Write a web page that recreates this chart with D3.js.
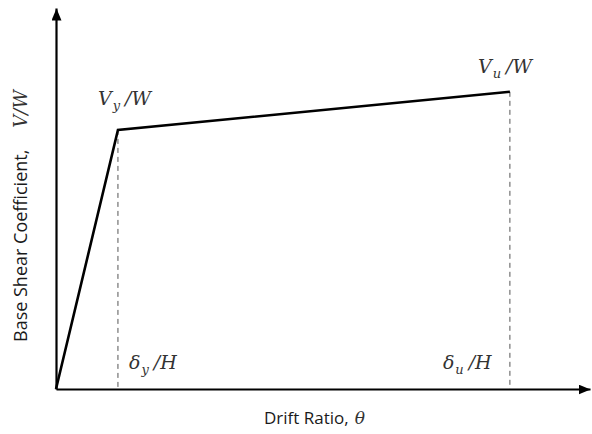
<!DOCTYPE html>
<html>
<head>
<meta charset="utf-8">
<script src="https://cdn.jsdelivr.net/npm/d3@7"></script>
<style>
  body { margin: 0; background: #fff; }
  .math { font-family: "DejaVu Serif", "Liberation Serif", serif; font-style: italic; fill: #333; }
  .axis-title { font-family: "Open Sans", "Noto Sans", sans-serif; fill: #1a1a1a; }
</style>
</head>
<body>
<svg id="chart"></svg>
<script>
// drift ratio (normalised) and base shear coefficient (normalised) of the capacity curve
const driftValues = [0, 0.116, 0.85];
const shearValues = [0, 0.68, 0.78];
const pointNames = ['origin', 'yield', 'ultimate'];

const width = 592, height = 434;
const margin = {top: 8, right: 2, bottom: 45, left: 56};

const svg = d3.select('#chart')
    .attr('width', width)
    .attr('height', height);

const x = d3.scaleLinear()
    .domain([0, 1])
    .range([margin.left, width - margin.right]);

const y = d3.scaleLinear()
    .domain([0, 1])
    .range([height - margin.bottom, margin.top]);

const points = driftValues.map((d, i) => ({name: pointNames[i], theta: d, v: shearValues[i]}));

// arrowhead
svg.append('defs').append('marker')
    .attr('id', 'arrow')
    .attr('viewBox', '0 0 12 10')
    .attr('refX', 12)
    .attr('refY', 5)
    .attr('markerWidth', 12)
    .attr('markerHeight', 10)
    .attr('markerUnits', 'userSpaceOnUse')
    .attr('orient', 'auto')
  .append('path')
    .attr('d', 'M0,0L12,5L0,10Z')
    .attr('fill', '#000');

// axes (no ticks, just the arrowed lines)
const xAxisG = svg.append('g')
    .attr('transform', `translate(0,${y(0)})`)
    .call(d3.axisBottom(x).tickValues([]).tickSizeOuter(0));

const yAxisG = svg.append('g')
    .attr('transform', `translate(${x(0)},0)`)
    .call(d3.axisLeft(y).tickValues([]).tickSizeOuter(0));

[xAxisG, yAxisG].forEach(g => g.select('.domain')
    .attr('stroke', '#000')
    .attr('stroke-width', 2.2)
    .attr('marker-end', 'url(#arrow)'));

// dashed drop lines
svg.selectAll('.drop')
    .data(points.slice(1))
  .join('line')
    .attr('class', 'drop')
    .attr('x1', d => x(d.theta))
    .attr('x2', d => x(d.theta))
    .attr('y1', d => y(d.v))
    .attr('y2', y(0))
    .attr('stroke', '#555')
    .attr('stroke-width', 1)
    .attr('stroke-dasharray', '5,4');

// capacity curve
svg.append('path')
    .datum(points)
    .attr('fill', 'none')
    .attr('stroke', '#000')
    .attr('stroke-width', 2.6)
    .attr('stroke-linejoin', 'miter')
    .attr('d', d3.line().x(d => x(d.theta)).y(d => y(d.v)));

// math labels
function mathLabel(px, py, main, sub, rest) {
  const t = svg.append('text')
      .attr('class', 'math')
      .attr('x', px)
      .attr('y', py)
      .style('font-size', '19px');
  t.append('tspan').text(main);
  t.append('tspan').attr('dy', 5).attr('dx', 1).style('font-size', '13px').text(sub);
  t.append('tspan').attr('dy', -5).attr('dx', 5).text(rest);
  return t;
}

const yieldPt = points[1], ultPt = points[2];
mathLabel(x(yieldPt.theta) - 20, y(yieldPt.v) - 25, 'V', 'y', '/W');
mathLabel(x(ultPt.theta) - 32, y(ultPt.v) - 19, 'V', 'u', '/W');
mathLabel(x(yieldPt.theta) + 11, y(0) - 20, 'δ', 'y', '/H');
mathLabel(x(ultPt.theta) - 67, y(0) - 20, 'δ', 'u', '/H');

// axis titles
const xt = svg.append('text')
    .attr('class', 'axis-title')
    .attr('x', 264)
    .attr('y', 424)
    .style('font-size', '17px');
xt.append('tspan').text('Drift Ratio,');
xt.append('tspan').attr('class', 'math').attr('dx', 6).text('θ');

const yt = svg.append('text')
    .attr('class', 'axis-title')
    .attr('transform', 'translate(27,342) rotate(-90)')
    .style('font-size', '18px');
yt.append('tspan').text('Base Shear Coefficient,');
yt.append('tspan').attr('class', 'math').attr('dx', 22).text('V/W');
</script>
</body>
</html>
